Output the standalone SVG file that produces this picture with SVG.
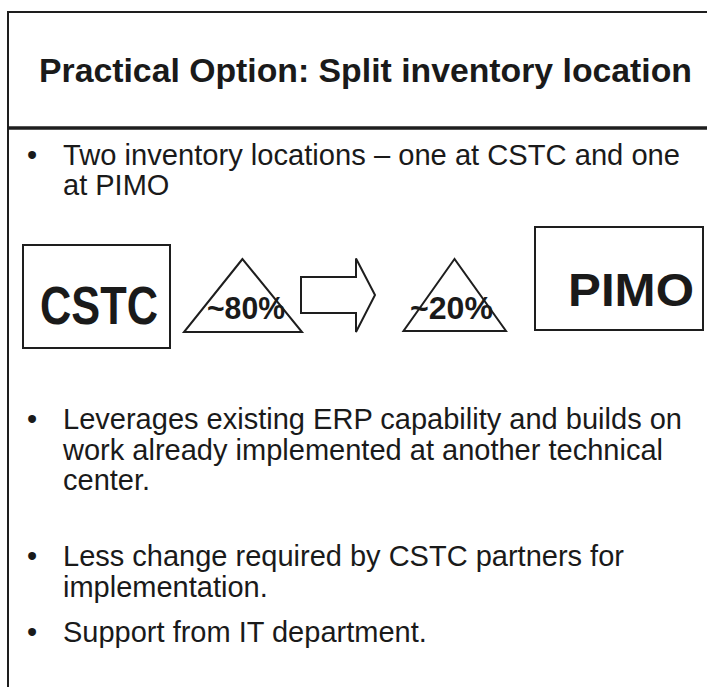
<svg xmlns="http://www.w3.org/2000/svg" width="707" height="687" viewBox="0 0 707 687">
  <style>
    .frame { fill: none; stroke: #1e1e1e; stroke-width: 2; }
    .rule { stroke: #1e1e1e; stroke-width: 3.5; }
    .title { font-family: "Liberation Sans", Arial, sans-serif; font-weight: bold; font-size: 33px; fill: #1a1a1a; }
    .body { font-family: "Liberation Sans", Arial, sans-serif; font-size: 29px; fill: #1a1a1a; }
    .big { font-family: "Liberation Sans", Arial, sans-serif; font-weight: bold; fill: #1a1a1a; }
    .shape { fill: #ffffff; stroke: #1e1e1e; stroke-width: 2; stroke-linejoin: miter; }
  </style>

  <rect width="707" height="687" fill="#ffffff"/>

  <!-- slide frame -->
  <g id="frame">
    <line x1="8" y1="12" x2="707" y2="12" class="frame"/>
    <line x1="8" y1="11" x2="8" y2="687" class="frame"/>
    <line x1="8" y1="128" x2="707" y2="128" class="rule"/>
  </g>

  <!-- heading -->
  <g id="title">
    <text x="39" y="82" class="title" textLength="653" lengthAdjust="spacingAndGlyphs">Practical Option: Split inventory location</text>
  </g>

  <!-- first bullet -->
  <g id="bullet-1">
    <text x="27" y="165" class="body">•</text>
    <text x="63" y="165" class="body" textLength="617" lengthAdjust="spacingAndGlyphs">Two inventory locations – one at CSTC and one</text>
    <text x="63" y="195" class="body">at PIMO</text>
  </g>

  <!-- CSTC location -->
  <g id="cstc">
    <rect x="23" y="245" width="147" height="103" class="shape"/>
    <text x="40" y="324" class="big" font-size="53" textLength="118" lengthAdjust="spacingAndGlyphs">CSTC</text>
  </g>

  <!-- share kept at CSTC -->
  <g id="share-80">
    <polygon points="242.5,259 184,332 302,332" class="shape"/>
    <text x="207" y="319" class="big" font-size="31" textLength="78" lengthAdjust="spacingAndGlyphs">~80%</text>
  </g>

  <!-- PIMO location -->
  <g id="pimo">
    <rect x="535" y="227" width="168" height="103" class="shape"/>
    <text x="568" y="306" class="big" font-size="46" textLength="126" lengthAdjust="spacingAndGlyphs">PIMO</text>
  </g>

  <!-- share held at PIMO -->
  <g id="share-20">
    <polygon points="454.5,259 403.5,331 506,331" class="shape"/>
    <text x="410" y="319" class="big" font-size="31" textLength="83" lengthAdjust="spacingAndGlyphs">~20%</text>
  </g>

  <!-- block arrow between the two shares -->
  <g id="connectors">
    <polygon points="301,277 356,277 356,258.5 375,295 356,332 356,313 301,313" class="shape"/>
  </g>

  <!-- benefit bullets -->
  <g id="bullet-2">
    <text x="27" y="429" class="body">•</text>
    <text x="63" y="429" class="body" textLength="619" lengthAdjust="spacingAndGlyphs">Leverages existing ERP capability and builds on</text>
    <text x="63" y="460" class="body" textLength="600" lengthAdjust="spacingAndGlyphs">work already implemented at another technical</text>
    <text x="63" y="490" class="body">center.</text>
  </g>

  <g id="bullet-3">
    <text x="27" y="566" class="body">•</text>
    <text x="63" y="566" class="body">Less change required by CSTC partners for</text>
    <text x="63" y="597" class="body">implementation.</text>
  </g>

  <g id="bullet-4">
    <text x="27" y="642" class="body">•</text>
    <text x="63" y="642" class="body">Support from IT department.</text>
  </g>
</svg>
